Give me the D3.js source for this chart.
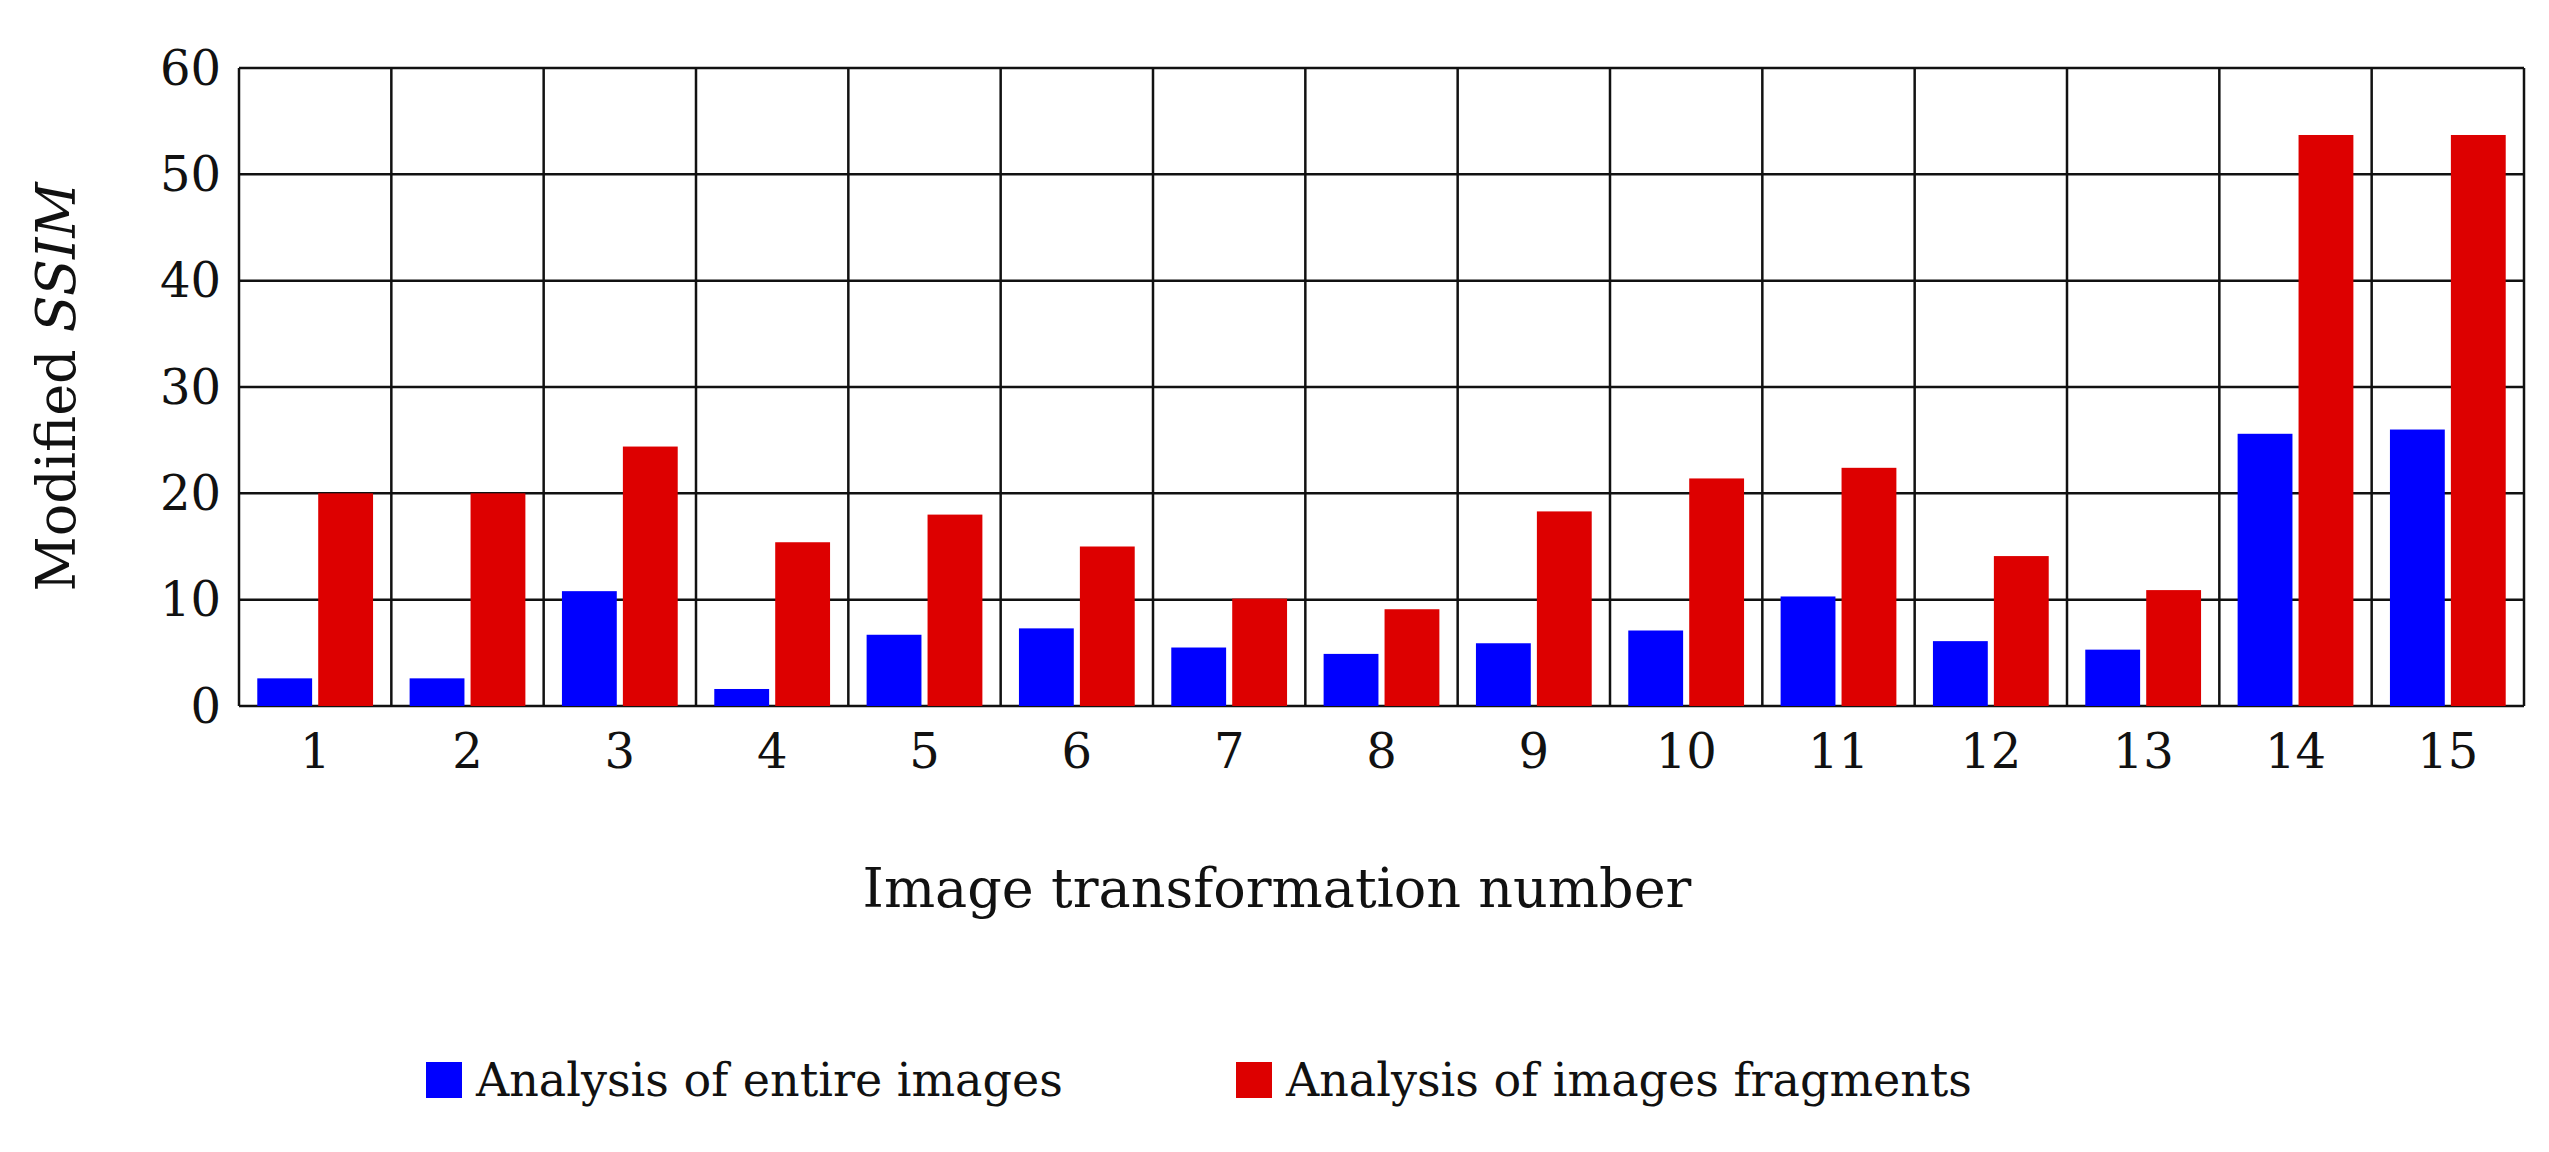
<!DOCTYPE html>
<html>
<head>
<meta charset="utf-8">
<script src="https://cdn.jsdelivr.net/npm/d3@7"></script>
<style>
  body { margin: 0; background: #fff; }
  text { font-family: "DejaVu Serif", "Liberation Serif", serif; fill: #111; }
</style>
</head>
<body>
<svg id="chart" width="2549" height="1152"></svg>
<script>
const categories = ['1','2','3','4','5','6','7','8','9','10','11','12','13','14','15'];
const series = ['Analysis of entire images', 'Analysis of images fragments'];
const entireImages = [2.6, 2.6, 10.8, 1.6, 6.7, 7.3, 5.5, 4.9, 5.9, 7.1, 10.3, 6.1, 5.3, 25.6, 26.0];
const imageFragments = [20.0, 20.0, 24.4, 15.4, 18.0, 15.0, 10.1, 9.1, 18.3, 21.4, 22.4, 14.1, 10.9, 53.7, 53.7];
const yTicks = [0, 10, 20, 30, 40, 50, 60];
const colors = ['#0000ff', '#dd0000'];

const svg = d3.select('#chart');
const m = { left: 239, right: 25, top: 68, bottom: 446 };
const W = 2549, H = 1152;

const x = d3.scaleBand().domain(categories).range([m.left, W - m.right]).paddingInner(0.24).paddingOuter(0.12);
const x1 = d3.scaleBand().domain([0, 1]).range([0, x.bandwidth()]).paddingInner(0.1);
const y = d3.scaleLinear().domain([0, 60]).range([H - m.bottom, m.top]);

// grid
const step = (W - m.right - m.left) / categories.length;
const g = svg.append('g').attr('stroke', '#111').attr('stroke-width', 2.5);
yTicks.forEach(t => g.append('line').attr('x1', m.left).attr('x2', W - m.right).attr('y1', y(t)).attr('y2', y(t)));
d3.range(categories.length + 1).forEach(i =>
  g.append('line').attr('x1', m.left + i * step).attr('x2', m.left + i * step).attr('y1', m.top).attr('y2', y(0)));

// bars
const data = categories.map((c, i) => ({ c, v: [entireImages[i], imageFragments[i]] }));
svg.append('g').selectAll('g').data(data).join('g')
    .attr('transform', d => `translate(${x(d.c)},0)`)
  .selectAll('rect').data(d => d.v.map((v, k) => ({ v, k }))).join('rect')
    .attr('x', d => x1(d.k))
    .attr('width', x1.bandwidth())
    .attr('y', d => y(d.v))
    .attr('height', d => y(0) - y(d.v))
    .attr('fill', d => colors[d.k]);

// axes labels
svg.append('g').selectAll('text').data(yTicks).join('text')
    .attr('x', m.left - 18).attr('y', d => y(d)).attr('dy', '0.35em')
    .attr('text-anchor', 'end').attr('font-size', 48).text(d => d);

svg.append('g').selectAll('text').data(categories).join('text')
    .attr('x', d => x(d) + x.bandwidth() / 2).attr('y', 768)
    .attr('text-anchor', 'middle').attr('font-size', 48).text(d => d);

svg.append('text').attr('x', 1277).attr('y', 907).attr('text-anchor', 'middle')
    .attr('font-size', 54).text('Image transformation number');

const yt = svg.append('text').attr('transform', 'translate(75,387) rotate(-90)')
    .attr('text-anchor', 'middle').attr('font-size', 54);
yt.append('tspan').text('Modified ');
yt.append('tspan').attr('font-style', 'italic').text('SSIM');

// legend
const legendX = [426, 1236];
const lg = svg.append('g').selectAll('g').data(series).join('g')
    .attr('transform', (d, i) => `translate(${legendX[i]},1080)`);
lg.append('rect').attr('x', 0).attr('y', -18).attr('width', 36).attr('height', 36)
    .attr('fill', (d, i) => colors[i]);
lg.append('text').attr('x', 50).attr('dy', '0.35em').attr('font-size', 46).text(d => d);
</script>
</body>
</html>
